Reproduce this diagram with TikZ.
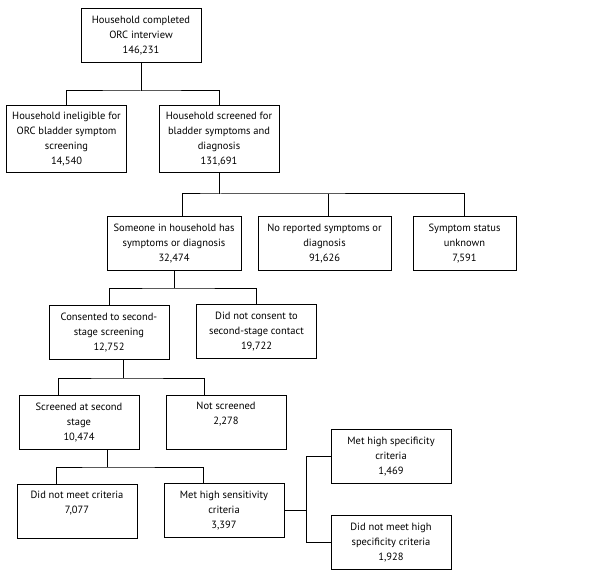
\documentclass[tikz,border=0pt]{standalone}
\usepackage{fontspec}
\setmainfont{PT Sans}
\usetikzlibrary{calc}

\begin{document}
\begin{tikzpicture}[
  x=1pt, y=-1pt,
  box/.style={draw, line width=1pt, minimum width=#1, align=center, anchor=north,
              inner xsep=4pt, inner ysep=6.5pt, minimum height=54pt,
              font=\fontsize{10.5}{15}\selectfont},
  box/.default=120pt,
  short/.style={text depth=17.5pt},
  link/.style={line width=1pt},
]
  \useasboundingbox (0,0) rectangle (602,577);

  % level 1 and 2
  \node[box] (hh) at (141,8) {Household completed\\ORC interview\\146,231};
  \node[box] (inel) at (66.5,105) {Household ineligible for\\ORC bladder symptom\\screening\\14,540};
  \node[box] (scr) at (219,105) {Household screened for\\bladder symptoms and\\diagnosis\\131,691};

  % level 3
  \node[box=134pt] (some) at (174,216) {Someone in household has\\symptoms or diagnosis\\32,474};
  \node[box=133pt] (nosym) at (324.5,216) {No reported symptoms or\\diagnosis\\91,626};
  \node[box=103pt] (unk) at (464.5,216) {Symptom status\\unknown\\7,591};

  % level 4
  \node[box] (cons) at (109,305) {Consented to second-\\stage screening\\12,752};
  \node[box] (nocons) at (256.5,304) {Did not consent to\\second-stage contact\\19,722};

  % level 5
  \node[box] (scr2) at (79,395) {Screened at second\\stage\\10,474};
  \node[box, short] (notscr) at (226,395) {Not screened\\2,278};

  % level 6
  \node[box, short] (notmet) at (77,484) {Did not meet criteria\\7,077};
  \node[box] (sens) at (224,483) {Met high sensitivity\\criteria\\3,397};
  \node[box] (spec) at (391,429) {Met high specificity\\criteria\\1,469};
  \node[box] (nospec) at (391,515) {Did not meet high\\specificity criteria\\1,928};

  % junctions
  \coordinate (j1) at (141,91);
  \coordinate (j2) at (219,194);
  \coordinate (j3) at (174,288);
  \coordinate (j4) at (123,378);
  \coordinate (j5) at (107,467);
  \coordinate (j6) at ($(sens.east)+(22,0)$);

  \draw[link] (hh.south) -- (j1);
  \draw[link] (inel.north) |- (j1) -| (scr.north);

  \draw[link] (scr.south) -- (j2);
  \draw[link] ([xshift=8pt]some.north) |- (j2) -| (unk.north);
  \draw[link] ([xshift=3.5pt]nosym.north) -- ([xshift=3.5pt]nosym.north |- j2);

  \draw[link] (some.south) -- (j3);
  \draw[link] (cons.north) |- (j3) -| (nocons.north);

  \draw[link] ([xshift=14pt]cons.south) -- (j4);
  \draw[link] ([xshift=-21pt]scr2.north) |- (j4) -| ([xshift=-22pt]notscr.north);

  \draw[link] ([xshift=28pt]scr2.south) -- (j5);
  \draw[link] ([xshift=-21pt]notmet.north) |- (j5) -| ([xshift=-21pt]sens.north);

  \draw[link] (sens.east) -- (j6);
  \draw[link] (spec.west) -| (j6) |- (nospec.west);
\end{tikzpicture}
\end{document}
